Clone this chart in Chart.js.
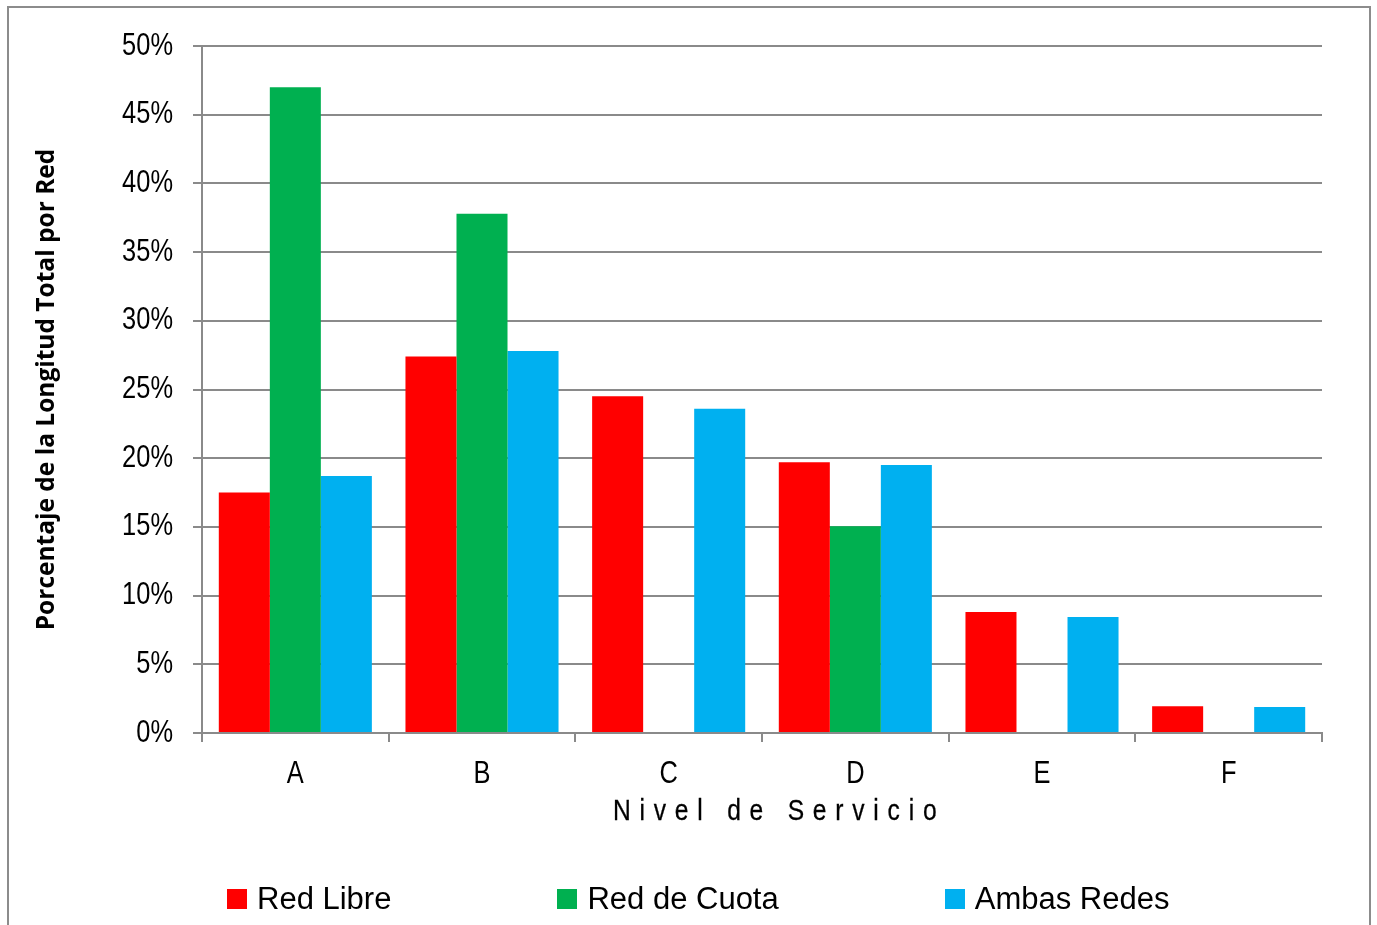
<!DOCTYPE html>
<html>
<head>
<meta charset="utf-8">
<script src="https://cdn.jsdelivr.net/npm/chart.js@4"></script>
<style>
  body { margin: 0; background: #fff; }
  #marco { position: absolute; left: 7px; top: 6px; width: 1360px; height: 930px;
           border: 2px solid #8c8c8c; border-bottom: none; }
  #grafico { position: absolute; left: 0; top: 0; }
  #tituloX { position: absolute; left: 613px; top: 795px; font-family: "Liberation Sans", Arial, sans-serif;
             font-size: 30px; letter-spacing: 10.7px; color: #000; white-space: nowrap; line-height: 30px;
             transform: scaleX(0.82); transform-origin: 0 0; -webkit-text-stroke: 0.3px #000; }
  #leyenda { position: absolute; left: 227px; top: 881px; display: flex; gap: 166px;
             font-family: "Liberation Sans", Arial, sans-serif; font-size: 31px; color: #000; }
  .item { display: flex; align-items: center; white-space: nowrap; }
  .caja { width: 20px; height: 20px; margin-right: 10px; }
</style>
</head>
<body>
<div id="marco"></div>
<canvas id="grafico" width="1377" height="925"></canvas>
<div id="tituloX">Nivel de Servicio</div>
<div id="leyenda"></div>
<script>
const categorias = ['A', 'B', 'C', 'D', 'E', 'F'];
const series = ['Red Libre', 'Red de Cuota', 'Ambas Redes'];
const redLibre = [17.5, 27.4, 24.5, 19.7, 8.8, 1.95];
const redCuota = [47.0, 37.8, 0, 15.05, 0, 0];
const ambasRedes = [18.7, 27.8, 23.6, 19.5, 8.45, 1.9];
const colores = ['#FF0000', '#00B050', '#00B0F0'];
const ticksY = [0, 5, 10, 15, 20, 25, 30, 35, 40, 45, 50];

const valores = [redLibre, redCuota, ambasRedes];
const gris = '#8a8a8a';

// leyenda en html
const leyenda = document.getElementById('leyenda');
series.forEach((nombre, i) => {
  const item = document.createElement('div');
  item.className = 'item';
  item.innerHTML = '<div class="caja" style="background:' + colores[i] + '"></div><span>' + nombre + '</span>';
  leyenda.appendChild(item);
});

// etiquetas de los ejes estrechas (como Arial Narrow): se encoge cada texto en su punto de anclaje
const etiquetasEstrechas = {
  id: 'etiquetasEstrechas',
  beforeDraw: (chart) => {
    [chart.scales.x, chart.scales.y].forEach(eje => {
      if (eje._estrecho) return;
      eje._estrecho = true;
      const original = eje.drawLabels.bind(eje);
      eje.drawLabels = function (area) {
        const c = chart.ctx;
        const rotar = c.rotate;
        c.rotate = function (a) { rotar.call(c, a); c.scale(0.82, 1); };
        try { original(area); } finally { c.rotate = rotar; }
      };
    });
  }
};

const ctx = document.getElementById('grafico');
new Chart(ctx, {
  type: 'bar',
  data: {
    labels: categorias,
    datasets: series.map((nombre, i) => ({
      label: nombre,
      data: valores[i],
      backgroundColor: colores[i],
      borderWidth: 0,
      categoryPercentage: 0.82,
      barPercentage: 1.0
    }))
  },
  options: {
    responsive: false,
    animation: false,
    layout: { padding: { top: 46, right: 55, left: 0, bottom: 0 } },
    plugins: {
      legend: { display: false },
      tooltip: { enabled: false }
    },
    scales: {
      x: {
        afterFit: (scale) => { scale.height = 192; },
        grid: { display: true, drawOnChartArea: false, drawTicks: true, tickLength: 9, color: gris, lineWidth: 2 },
        border: { display: true, color: gris, width: 2 },
        ticks: { color: '#000', padding: 14, font: { family: "'Liberation Sans', Arial, sans-serif", size: 31 } }
      },
      y: {
        min: 0,
        max: 50,
        afterFit: (scale) => { scale.width = 202; },
        afterBuildTicks: (scale) => { scale.ticks = ticksY.map(v => ({ value: v })); },
        grid: { color: gris, lineWidth: 2, tickLength: 9 },
        border: { display: true, color: gris, width: 2 },
        ticks: {
          color: '#000',
          padding: 20,
          font: { family: "'Liberation Sans', Arial, sans-serif", size: 31 },
          callback: (v) => v + '%'
        },
        title: {
          display: true,
          text: 'Porcentaje de la Longitud Total por Red',
          color: '#000',
          padding: { top: 32 },
          font: { family: "'Open Sans', sans-serif", size: 24.5, weight: 'bold' }
        }
      }
    }
  },
  plugins: [etiquetasEstrechas]
});
</script>
</body>
</html>
